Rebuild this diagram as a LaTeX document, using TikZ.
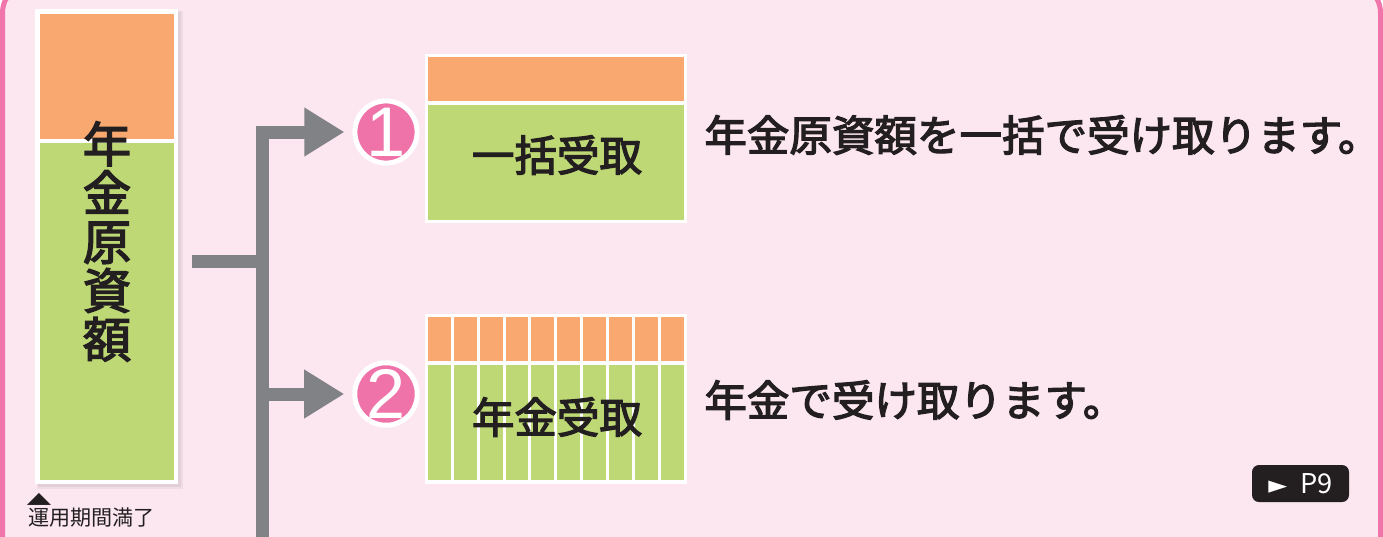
\documentclass[tikz,border=0pt]{standalone}
\usepackage{graphicx}
\usepackage{fontspec}
\setmainfont{Noto Sans CJK JP}
\newfontfamily\headfont{Noto Sans CJK JP}[FakeBold=3]
\newfontfamily\numfont{Liberation Sans}
\newfontfamily\symfont{DejaVu Sans}
\usetikzlibrary{arrows.meta, positioning, calc}
\definecolor{framepink}{HTML}{F075AA}
\definecolor{bgpink}{HTML}{FCE7F0}
\definecolor{lumporange}{HTML}{F9A870}
\definecolor{annugreen}{HTML}{BDD874}
\definecolor{conngray}{HTML}{808285}
\definecolor{inkdark}{HTML}{231F20}
\definecolor{numpink}{HTML}{EF73A9}

\begin{document}
\begin{tikzpicture}[x=0.2mm, y=-0.2mm,
    conn/.style={draw=conngray, line width=2.6mm},
    arrowtip/.style={-{Triangle[length=8mm, width=9.2mm]}, shorten >=1.6mm},
    numcirc/.style={circle, fill=numpink, draw=white, line width=1mm, minimum size=12.2mm, inner sep=0pt, text=white, font=\numfont\fontsize{40pt}{40pt}\selectfont},
    plate/.style={fill=white, inner sep=0pt},
    notetext/.style={inner sep=0pt, text=inkdark, font=\headfont\fontsize{24.2pt}{28pt}\selectfont}]
  \useasboundingbox (0,0) rectangle (1383,536);
  % frame
  \draw[framepink, fill=bgpink, line width=1mm, rounded corners=6mm] (2.5,-17) rectangle (1380.5,600);

  % fund box
  \fill[black, opacity=0.05] (37,11) rectangle (183,489);
  \fill[black, opacity=0.05] (38,12) rectangle (181,487);
  \node[plate, minimum width=28.6mm, minimum height=95mm] (fund) at (106.5,246.5) {};
  \fill[lumporange] (39.5,13.5) rectangle (174,139);
  \fill[annugreen] (39.5,143) rectangle (174,479.5);
  \node[notetext, align=center, font=\headfont\fontsize{27.5pt}{27.8pt}\selectfont] (fundtext) at (107,241.5) {年\\金\\原\\資\\額};
  \node[inner sep=0pt, text=inkdark] (mark) at (39,499) {\scalebox{1}[0.5]{\symfont\fontsize{18pt}{18pt}\selectfont ▲}};
  \node[anchor=west, inner sep=0pt, text=inkdark, font=\fontsize{12pt}{12pt}\selectfont] (maturity) at (28,518) {運用期間満了};

  % lump sum box
  \node[plate, minimum width=52.4mm, minimum height=33.8mm] (lumpbox) at (556,138.5) {};
  \fill[lumporange] (428,57) rectangle (683.5,101);
  \fill[annugreen] (428,105) rectangle (683.5,220);
  \node[notetext] (lumptext) at (557,155) {一括受取};

  % annuity box
  \node[plate, minimum width=52.4mm, minimum height=34mm] (annubox) at (556,399) {};
  \fill[lumporange] (428,317) rectangle (683.5,361);
  \fill[annugreen] (428,365) rectangle (683.5,480);
  \foreach \k in {1,...,9}
    \draw[white, line width=0.6mm] ({426.5+25.85*\k},317) -- ({426.5+25.85*\k},480);
  \node[notetext] (annutext) at (557,417) {年金受取};

  % numbers
  \node[numcirc] (one) at (386,132) {1};
  \node[numcirc] (two) at (386,394) {2};

  % connectors
  \coordinate (split) at (262,261);
  \coordinate (trunk) at (262,560);
  \draw[conn, shorten <=2.8mm] (fund.east |- split) -- (split);
  \draw[conn, arrowtip, line join=miter] (trunk) |- (one);
  \draw[conn, arrowtip] (trunk |- two) -- (two);

  % notes
  \node[notetext, anchor=west] (lumpnote) at (704,135) {年金原資額を一括で受け取ります。};
  \node[notetext, anchor=west] (annunote) at (704,400) {年金で受け取ります。};

  % page reference
  \node[fill=inkdark, rounded corners=1.4mm, minimum width=19.4mm, minimum height=7.4mm, inner sep=0pt, text=white, font=\fontsize{15.5pt}{15.5pt}\selectfont] (pageref) at (1300.5,483.5) {{\symfont\fontsize{14pt}{14pt}\selectfont ►}\hspace{2.6mm}P9};
\end{tikzpicture}
\end{document}
